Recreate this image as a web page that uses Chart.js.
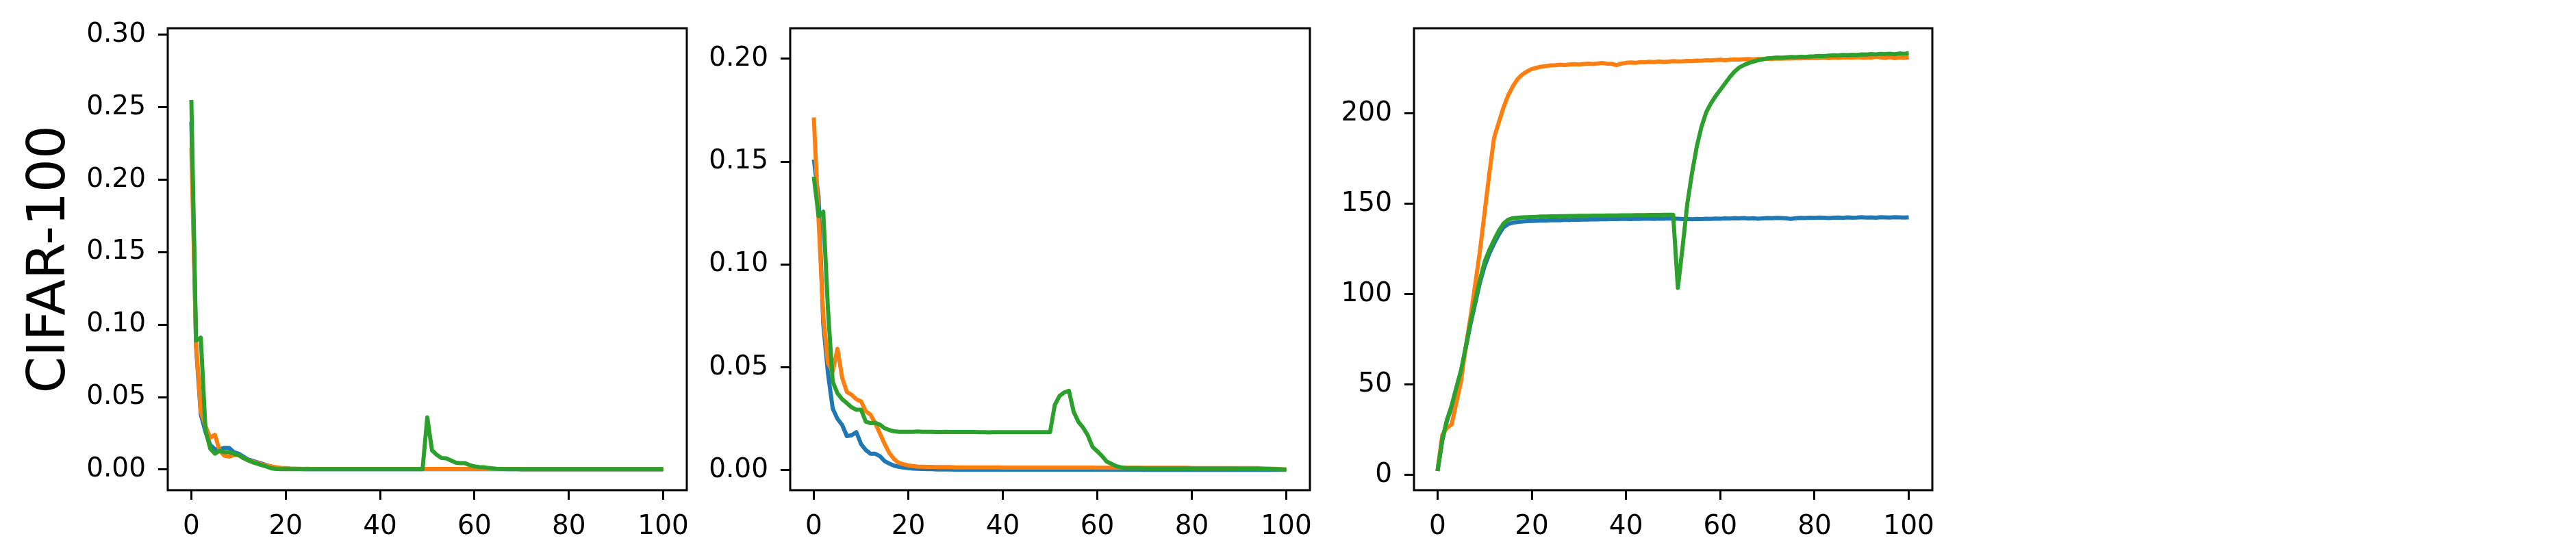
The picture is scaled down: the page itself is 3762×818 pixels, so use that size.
<!DOCTYPE html>
<html><head><meta charset="utf-8">
<script src="https://cdn.jsdelivr.net/npm/chart.js@4.4.0/dist/chart.umd.min.js"></script>
<style>
html,body{margin:0;padding:0;background:#fff;width:3762px;height:818px;overflow:hidden;}
canvas{position:absolute;left:0;top:0;}
</style></head><body>
<canvas id="c1" width="3762" height="818"></canvas>
<canvas id="c2" width="3762" height="818"></canvas>
<canvas id="c3" width="3762" height="818"></canvas>
<script>
const epochs = Array.from({length: 101}, (_, i) => i);
const xTicks = [0, 20, 40, 60, 80, 100];
const p1YTicks = [0.00, 0.05, 0.10, 0.15, 0.20, 0.25, 0.30];
const p2YTicks = [0.00, 0.05, 0.10, 0.15, 0.20];
const p3YTicks = [0, 50, 100, 150, 200];
const rowLabel = 'CIFAR-100';

const p1Blue = [0.240,0.085,0.038,0.026,0.017,0.014,0.014,0.015,0.015,0.012,
0.011,0.009,0.007,0.006,0.005,0.004,0.003,0.002,0.0012,0.0008,
0.0006,0.0005,0.0004,0.0004,0.0003,0.0003,0.0003,0.0003,0.0003,0.0003,
0.0003,0.0003,0.0003,0.0003,0.0003,0.0003,0.0003,0.0003,0.0003,0.0003,
0.0003,0.0003,0.0003,0.0003,0.0003,0.0003,0.0003,0.0003,0.0003,0.0003,
0.0003,0.0003,0.0003,0.0003,0.0003,0.0003,0.0003,0.0003,0.0003,0.0003,
0.0003,0.0003,0.0003,0.0003,0.0003,0.0003,0.0003,0.0003,0.0003,0.0003,
0.0002,0.0002,0.0002,0.0002,0.0002,0.0002,0.0002,0.0002,0.0002,0.0002,
0.0002,0.0002,0.0002,0.0002,0.0002,0.0002,0.0002,0.0002,0.0002,0.0002,
0.0002,0.0002,0.0002,0.0002,0.0002,0.0002,0.0002,0.0002,0.0002,0.0002,0.0002];
const p1Orange = [0.222,0.087,0.040,0.030,0.022,0.024,0.013,0.0095,0.009,0.010,
0.010,0.008,0.0065,0.0055,0.0045,0.0035,0.0028,0.0021,0.0016,0.0012,
0.0010,0.0008,0.0007,0.0006,0.0005,0.0005,0.0004,0.0004,0.0004,0.0004,
0.0004,0.0004,0.0004,0.0004,0.0004,0.0004,0.0004,0.0004,0.0004,0.0004,
0.0004,0.0004,0.0004,0.0004,0.0004,0.0004,0.0004,0.0004,0.0004,0.0004,
0.0004,0.0004,0.0004,0.0004,0.0004,0.0004,0.0004,0.0004,0.0004,0.0004,
0.0004,0.0004,0.0004,0.0004,0.0004,0.0004,0.0004,0.0004,0.0004,0.0004,
0.0003,0.0003,0.0003,0.0003,0.0003,0.0003,0.0003,0.0003,0.0003,0.0003,
0.0003,0.0003,0.0003,0.0003,0.0003,0.0003,0.0003,0.0003,0.0003,0.0003,
0.0003,0.0003,0.0003,0.0003,0.0003,0.0003,0.0003,0.0003,0.0003,0.0003,0.0003];
const p1Green = [0.255,0.089,0.091,0.027,0.0145,0.011,0.013,0.012,0.012,0.011,
0.010,0.008,0.0065,0.005,0.004,0.003,0.002,0.0008,0.0004,0.0003,
0.0003,0.0003,0.0003,0.0003,0.0003,0.0003,0.0003,0.0003,0.0003,0.0003,
0.0003,0.0003,0.0003,0.0003,0.0003,0.0003,0.0003,0.0003,0.0003,0.0003,
0.0003,0.0003,0.0003,0.0003,0.0003,0.0003,0.0003,0.0003,0.0003,0.0003,
0.036,0.0133,0.0102,0.0080,0.0078,0.0063,0.0048,0.0045,0.0044,0.0031,
0.0022,0.0018,0.0016,0.0011,0.0008,0.0005,0.0004,0.0003,0.0003,0.0003,
0.0003,0.0003,0.0003,0.0003,0.0003,0.0003,0.0003,0.0003,0.0003,0.0003,
0.0003,0.0003,0.0003,0.0003,0.0003,0.0003,0.0003,0.0003,0.0003,0.0003,
0.0003,0.0003,0.0003,0.0003,0.0003,0.0003,0.0003,0.0003,0.0003,0.0003,0.0003];

const p2Blue = [0.151,0.133,0.071,0.047,0.030,0.025,0.022,0.0166,0.017,0.0185,
0.0127,0.0098,0.008,0.008,0.0068,0.0044,0.0032,0.0022,0.0017,0.0013,
0.0010,0.0008,0.0007,0.0006,0.0005,0.0005,0.0004,0.0004,0.0004,0.0004,
0.0003,0.0003,0.0003,0.0003,0.0003,0.0003,0.0003,0.0003,0.0003,0.0003,
0.0003,0.0003,0.0003,0.0003,0.0003,0.0003,0.0003,0.0003,0.0003,0.0003,
0.0003,0.0003,0.0003,0.0003,0.0003,0.0003,0.0003,0.0003,0.0003,0.0003,
0.0003,0.0003,0.0003,0.0003,0.0003,0.0003,0.0003,0.0003,0.0003,0.0003,
0.0002,0.0002,0.0002,0.0002,0.0002,0.0002,0.0002,0.0002,0.0002,0.0002,
0.0002,0.0002,0.0002,0.0002,0.0002,0.0002,0.0002,0.0002,0.0002,0.0002,
0.0002,0.0002,0.0002,0.0002,0.0002,0.0002,0.0002,0.0002,0.0002,0.0002,0.0002];
const p2Orange = [0.1715,0.122,0.075,0.052,0.048,0.059,0.045,0.038,0.0367,0.0345,
0.0335,0.0287,0.027,0.0228,0.0178,0.0127,0.0083,0.0054,0.0036,0.0029,
0.0023,0.0020,0.0018,0.0017,0.0016,0.0016,0.0015,0.0015,0.0015,0.0015,
0.0014,0.0014,0.0014,0.0014,0.0014,0.0014,0.0014,0.0014,0.0014,0.0014,
0.0013,0.0013,0.0013,0.0013,0.0013,0.0013,0.0013,0.0013,0.0013,0.0013,
0.0013,0.0013,0.0013,0.0013,0.0013,0.0013,0.0013,0.0013,0.0013,0.0013,
0.0012,0.0012,0.0012,0.0012,0.0012,0.0012,0.0012,0.0012,0.0012,0.0012,
0.0012,0.0012,0.0012,0.0012,0.0012,0.0012,0.0012,0.0012,0.0012,0.0012,
0.0010,0.0010,0.0010,0.0010,0.0010,0.0010,0.0010,0.0010,0.0010,0.0010,
0.0010,0.0010,0.0010,0.0010,0.0010,0.0009,0.0008,0.0007,0.0006,0.0005,0.0003];
const p2Green = [0.1427,0.1235,0.1257,0.078,0.043,0.0374,0.0345,0.0326,0.0306,0.0294,
0.0294,0.0236,0.0229,0.0231,0.0221,0.0204,0.0195,0.0189,0.0187,0.0187,
0.0187,0.0187,0.0188,0.0187,0.0187,0.0187,0.0186,0.0186,0.0187,0.0186,
0.0186,0.0186,0.0186,0.0186,0.0186,0.0185,0.0185,0.0184,0.0185,0.0185,
0.0185,0.0185,0.0185,0.0185,0.0185,0.0185,0.0185,0.0185,0.0185,0.0185,
0.0185,0.0317,0.0361,0.0378,0.0386,0.0284,0.0235,0.0207,0.0169,0.0113,
0.0092,0.0069,0.0042,0.0031,0.0020,0.0014,0.0011,0.0010,0.0010,0.0010,
0.0009,0.0009,0.0009,0.0009,0.0009,0.0009,0.0009,0.0009,0.0009,0.0009,
0.0008,0.0008,0.0008,0.0008,0.0008,0.0008,0.0008,0.0008,0.0008,0.0008,
0.0007,0.0007,0.0007,0.0007,0.0007,0.0006,0.0006,0.0005,0.0005,0.0004,0.0004];

const p3Blue = [2.2,19.0,30.0,37.5,47.5,57.5,70.5,83.5,95.0,106.5,
115.5,122.5,128.0,133.0,137.0,138.8,139.5,139.9,140.2,140.4,
140.5,140.6,140.8,140.7,140.9,141.0,140.9,141.1,141.0,141.2,
141.1,141.3,141.2,141.4,141.3,141.5,141.4,141.6,141.5,141.7,
141.6,141.5,141.7,141.6,141.8,141.7,141.6,141.8,141.7,141.9,
141.8,141.7,141.5,141.6,141.4,141.6,141.5,141.7,141.6,141.8,
141.7,141.9,141.8,142.0,141.9,142.1,141.8,142.0,141.7,141.9,
142.1,142.0,142.2,142.1,141.9,141.6,142.0,142.2,142.1,142.3,
142.2,142.4,142.3,142.1,142.3,142.4,142.2,142.5,142.3,142.4,
142.6,142.4,142.5,142.3,142.6,142.5,142.4,142.6,142.5,142.4,142.5];
const p3Orange = [2.5,22.0,26.0,28.0,40.0,52.0,71.0,87.5,105.5,124.0,
145.5,167.0,186.5,195.0,203.3,210.0,215.0,219.0,221.5,223.2,
224.5,225.2,225.8,226.1,226.5,226.6,226.9,226.7,227.0,227.2,
227.0,227.3,227.5,227.3,227.6,227.8,227.5,227.4,226.6,227.5,
227.9,228.1,227.9,228.3,228.2,228.5,228.3,228.7,228.4,228.6,
228.9,228.7,228.8,229.0,228.9,229.2,229.1,229.4,229.3,229.5,
229.6,229.4,229.6,229.8,229.7,229.9,230.0,229.8,230.1,230.0,
230.2,230.1,230.3,230.2,230.4,230.3,230.5,230.4,230.6,230.5,
230.7,230.6,230.8,230.5,230.9,230.7,230.9,231.0,230.8,231.1,
230.9,231.0,230.8,231.2,231.0,230.6,231.1,230.5,230.9,230.7,231.0];
const p3Green = [2.2,19.5,30.5,38.5,48.5,58.0,71.0,84.5,96.5,108.0,
118.0,124.5,130.0,135.0,139.0,141.2,142.0,142.3,142.5,142.6,
142.7,142.8,142.9,142.9,143.0,143.0,143.1,143.1,143.2,143.2,
143.3,143.3,143.3,143.4,143.4,143.4,143.5,143.5,143.5,143.6,
143.6,143.6,143.7,143.7,143.7,143.8,143.8,143.8,143.9,143.9,
143.9,103.5,126.0,150.0,167.0,181.5,192.5,200.5,205.5,209.5,
213.0,216.5,220.0,223.0,225.3,226.7,227.8,228.6,229.3,229.9,
230.4,230.6,230.9,230.8,231.0,231.2,231.1,231.3,231.2,231.4,
231.5,231.7,231.6,231.9,232.1,232.0,232.3,232.2,232.4,232.3,
232.6,232.5,232.8,232.6,232.9,232.8,233.0,232.7,233.1,232.9,233.2];

const BLUE = '#1f77b4', ORANGE = '#ff7f0e', GREEN = '#2ca02c';
const FONT = 'DejaVu Sans';

const framePlugin = {
  id: 'frame',
  afterDatasetsDraw(chart) {
    const {ctx, chartArea: a} = chart;
    ctx.save();
    ctx.strokeStyle = '#000';
    ctx.lineWidth = 3;
    ctx.strokeRect(a.left, a.top, a.right - a.left, a.bottom - a.top);
    ctx.restore();
  }
};

function series(arr, color, order) {
  return {
    data: epochs.map((e, i) => ({x: e, y: arr[i]})),
    borderColor: color, backgroundColor: color,
    borderWidth: 6, pointRadius: 0, tension: 0, fill: false,
    borderJoinStyle: 'round', order: order
  };
}

function tickGrid() {
  return {display: true, drawOnChartArea: false, drawTicks: true,
          tickLength: 14, tickWidth: 3, tickColor: '#000', color: '#000'};
}

function makeChart(id, datasets, cfg) {
  new Chart(document.getElementById(id), {
    type: 'line',
    data: {datasets: datasets},
    plugins: [framePlugin],
    options: {
      responsive: false, animation: false, devicePixelRatio: 1,
      layout: {padding: {left: cfg.padLeft, right: cfg.padRight, top: 37, bottom: 32}},
      plugins: {legend: {display: false}, tooltip: {enabled: false}},
      scales: {
        x: {
          type: 'linear', min: -5, max: 105,
          afterBuildTicks: s => { s.ticks = xTicks.map(v => ({value: v})); },
          afterFit: s => { s.height = 70; },
          grid: tickGrid(), border: {display: false},
          ticks: {color: '#000', font: {family: FONT, size: 39}, padding: 16,
                  maxRotation: 0, autoSkip: false, callback: v => String(v)}
        },
        y: {
          type: 'linear', min: cfg.ymin, max: cfg.ymax,
          afterBuildTicks: s => { s.ticks = cfg.yTicks.map(v => ({value: v})); },
          afterFit: s => { s.width = cfg.yWidth; },
          grid: tickGrid(), border: {display: false},
          title: cfg.title ? {display: true, text: cfg.title, color: '#000',
                  font: {family: FONT, size: 77}, padding: {top: 28, bottom: 0}} : {display: false},
          ticks: {color: '#000', font: {family: FONT, size: 39}, padding: 18,
                  autoSkip: false, callback: cfg.fmt}
        }
      }
    }
  });
}

const fmt2 = v => Number(v).toFixed(2);
const fmt0 = v => String(Math.round(v));

makeChart('c1', [series(p1Blue, BLUE, 3), series(p1Orange, ORANGE, 2), series(p1Green, GREEN, 1)],
  {padLeft: 0, padRight: 3762 - 1003, yWidth: 245, ymin: -0.0142, ymax: 0.3044,
   yTicks: p1YTicks, fmt: fmt2, title: rowLabel});
makeChart('c2', [series(p2Blue, BLUE, 3), series(p2Orange, ORANGE, 2), series(p2Green, GREEN, 1)],
  {padLeft: 1154 - 150, padRight: 3762 - 1913, yWidth: 150, ymin: -0.0097, ymax: 0.2148,
   yTicks: p2YTicks, fmt: fmt2});
makeChart('c3', [series(p3Blue, BLUE, 3), series(p3Orange, ORANGE, 2), series(p3Green, GREEN, 1)],
  {padLeft: 2065 - 150, padRight: 3762 - 2822, yWidth: 150, ymin: -8.4, ymax: 247.0,
   yTicks: p3YTicks, fmt: fmt0});
</script>
</body></html>
